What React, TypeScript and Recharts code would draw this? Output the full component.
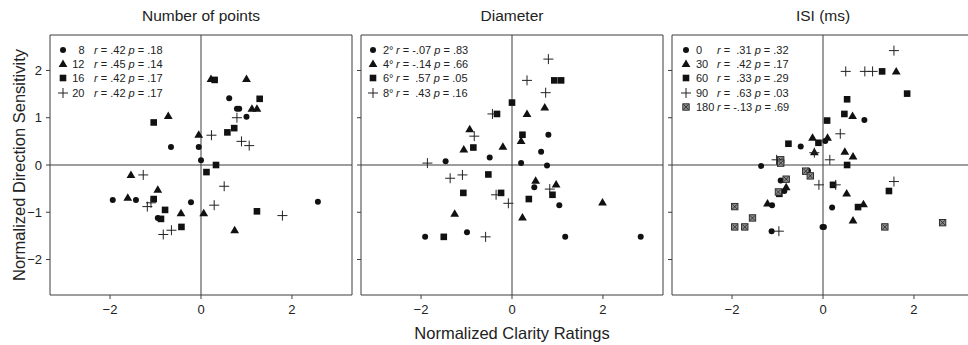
import React from 'react';
import { ScatterChart, Scatter, XAxis, YAxis, ReferenceLine } from 'recharts';

const FONT = "'Liberation Sans', Arial, Helvetica, sans-serif";
const INK = '#111';
const LINE = '#3c3c3c';

const xTicks = [-2, 0, 2];
const yTicks = [-2, -1, 0, 1, 2];
const X_DOMAIN: [number, number] = [-3.32, 3.32];
const Y_DOMAIN: [number, number] = [-2.75, 2.75];

const panelTitles = ['Number of points', 'Diameter', 'ISI (ms)'];
const xAxisTitle = 'Normalized Clarity Ratings';
const yAxisTitle = 'Normalized Direction Sensitivity';

// ---------- Panel 1: Number of points ----------
const np8: [number, number][] = [[2.57, -0.78], [-1.94, -0.74], [-1.43, -0.74], [-0.22, -0.79], [-0.66, 0.38], [-0.05, 0.38], [0.0, 0.1], [0.62, 1.41], [0.79, 1.19], [0.84, 1.19], [1.0, 1.02], [-0.95, -1.12]];
const np12: [number, number][] = [[-1.54, -0.21], [-1.61, -0.69], [-0.95, -0.52], [-0.72, 1.04], [-0.44, -1.02], [-0.05, 0.64], [0.06, -1.02], [0.22, 1.82], [0.74, -1.38], [1.0, 1.82], [1.12, 1.19], [1.23, 1.19]];
const np16: [number, number][] = [[-1.04, 0.9], [-1.04, -0.72], [-0.79, -0.95], [-0.88, -1.14], [-0.43, -1.31], [0.12, -0.15], [0.33, 0.0], [0.3, 1.8], [0.58, 0.69], [0.73, 0.78], [1.29, 1.4], [1.23, -0.98]];
const np20: [number, number][] = [[-1.27, -0.21], [-1.18, -0.88], [-1.1, -0.8], [-0.83, -1.47], [-0.65, -1.38], [0.23, 0.63], [0.29, -0.85], [0.51, -0.45], [0.79, 1.0], [0.89, 0.5], [1.06, 0.41], [1.79, -1.07]];

// ---------- Panel 2: Diameter ----------
const d2: [number, number][] = [[-1.91, -1.52], [-1.46, 0.08], [-0.99, -1.42], [-0.49, 0.16], [0.2, 0.04], [0.49, -0.47], [0.64, 0.28], [0.77, -0.01], [0.8, 0.64], [1.04, -0.85], [1.17, -1.52], [2.83, -1.52]];
const d4: [number, number][] = [[-1.26, -1.03], [-1.06, 0.33], [-0.93, 0.76], [-0.2, 0.39], [0.2, 0.51], [0.23, -1.11], [0.33, 1.08], [0.52, -0.33], [0.72, 1.22], [0.97, -0.41], [1.99, -0.79]];
const d6: [number, number][] = [[-1.5, -1.52], [-1.07, -0.59], [-0.85, 0.37], [-0.52, -0.2], [-0.33, 1.08], [-0.24, -0.59], [0.0, 1.32], [0.23, 0.64], [0.37, -0.72], [0.89, -0.63], [0.93, 1.79], [1.08, 1.79]];
const d8: [number, number][] = [[-1.86, 0.04], [-1.36, -0.28], [-1.09, -0.21], [-0.83, 0.61], [-0.43, 1.08], [-0.35, -0.63], [-0.08, -0.81], [-0.58, -1.52], [0.33, 1.79], [0.74, 1.53], [0.8, 2.24], [0.83, -0.51]];

// ---------- Panel 3: ISI (ms) ----------
const isi0: [number, number][] = [[-1.36, -0.02], [-1.13, -1.4], [-1.12, -0.85], [-0.93, -0.33], [-0.85, -0.55], [-0.49, 0.39], [-0.33, -0.12], [-0.01, -1.31], [0.02, -1.31], [0.05, 0.51], [0.2, -0.9], [0.91, 0.95]];
const isi30: [number, number][] = [[-1.22, -0.81], [-0.81, -0.47], [-0.23, 0.58], [-0.19, 0.27], [0.1, 0.58], [0.48, 0.28], [0.52, -0.6], [0.65, 1.04], [0.66, 0.18], [0.66, -1.17], [0.89, -0.83], [1.61, 1.98]];
const isi60: [number, number][] = [[-0.96, -0.61], [-0.76, 0.45], [-0.1, 0.47], [0.09, 0.94], [0.22, -0.42], [0.47, 1.08], [0.53, 1.39], [0.53, 0.0], [0.77, -0.89], [1.3, 1.98], [1.45, -0.55], [1.85, 1.51]];
const isi90: [number, number][] = [[-1.02, 0.11], [-0.97, -1.4], [-0.19, 0.26], [-0.09, -0.42], [0.15, 0.11], [0.28, -0.42], [0.38, 0.66], [0.5, 1.98], [0.92, 1.98], [1.09, 1.98], [1.56, 2.42], [1.56, -0.35]];
const isi180: [number, number][] = [[-1.94, -0.88], [-1.94, -1.31], [-1.72, -1.31], [-1.55, -1.12], [-0.98, -0.57], [-0.93, 0.11], [-0.93, 0.04], [-0.81, -0.3], [-0.38, -0.13], [-0.28, -0.23], [1.36, -1.31], [2.63, -1.22]];

// ---------- Legend texts ----------
const np_labels = ['8', '12', '16', '20'];
const np_r = ['.42', '.45', '.42', '.42'];
const np_p = ['.18', '.14', '.17', '.17'];
const d_labels = ['2°', '4°', '6°', '8°'];
const d_r = ['-.07', '-.14', ' .57', ' .43'];
const d_p = ['.83', '.66', '.05', '.16'];
const isi_labels = ['0', '30', '60', '90', '180'];
const isi_r = [' .31', ' .42', ' .33', ' .63', '-.13'];
const isi_p = ['.32', '.17', '.29', '.03', '.69'];

type Kind = 'circle' | 'triangle' | 'square' | 'plus' | 'squarex';

function Marker({ kind, cx, cy }: { kind: Kind; cx: number; cy: number }) {
  if (cx == null || cy == null) return null;
  switch (kind) {
    case 'circle':
      return <circle cx={cx} cy={cy} r={3} fill={INK} />;
    case 'triangle':
      return <polygon points={`${cx},${cy - 4.4} ${cx - 4.4},${cy + 3.1} ${cx + 4.4},${cy + 3.1}`} fill={INK} />;
    case 'square':
      return <rect x={cx - 3.3} y={cy - 3.3} width={6.6} height={6.6} fill={INK} />;
    case 'plus':
      return (
        <path d={`M${cx - 5},${cy}H${cx + 5}M${cx},${cy - 5}V${cy + 5}`} stroke="#222" strokeWidth={1} fill="none" />
      );
    case 'squarex':
      return (
        <g>
          <rect x={cx - 3.2} y={cy - 3.2} width={6.4} height={6.4} fill="#8c8c8c" stroke="#222" strokeWidth={0.9} />
          <path d={`M${cx - 2.4},${cy - 2.4}L${cx + 2.4},${cy + 2.4}M${cx + 2.4},${cy - 2.4}L${cx - 2.4},${cy + 2.4}`} stroke="#222" strokeWidth={0.8} />
        </g>
      );
  }
  return null;
}

const toPts = (arr: [number, number][]) => arr.map(([x, y]) => ({ x, y }));
const fmt = (v: number) => (v < 0 ? `\u2212${Math.abs(v)}` : `${v}`);

type Series = { data: [number, number][]; kind: Kind };

function Panel({ left, width, yAxisWidth, showYLabels, series }: { left: number; width: number; yAxisWidth: number; showYLabels: boolean; series: Series[] }) {
  return (
    <div style={{ position: 'absolute', left, top: 0 }}>
      <ScatterChart width={width} height={345} margin={{ top: 35, right: 8, bottom: 20, left: 0 }}>
        <XAxis
          type="number"
          dataKey="x"
          domain={X_DOMAIN}
          ticks={xTicks}
          allowDataOverflow
          tickFormatter={fmt}
          tickSize={4}
          tickMargin={6}
          height={30}
          axisLine={{ stroke: LINE }}
          tickLine={{ stroke: LINE }}
          tick={{ fill: '#222', fontSize: 13, fontFamily: FONT }}
        />
        <YAxis
          type="number"
          dataKey="y"
          domain={Y_DOMAIN}
          ticks={yTicks}
          allowDataOverflow
          tickFormatter={showYLabels ? fmt : () => ''}
          tickSize={4}
          tickMargin={4}
          width={yAxisWidth}
          axisLine={{ stroke: LINE }}
          tickLine={{ stroke: LINE }}
          tick={{ fill: '#222', fontSize: 13, fontFamily: FONT }}
        />
        <ReferenceLine x={X_DOMAIN[1]} stroke={LINE} />
        <ReferenceLine y={Y_DOMAIN[1]} stroke={LINE} />
        <ReferenceLine x={0} stroke={LINE} />
        <ReferenceLine y={0} stroke={LINE} />
        {series.map((s, i) => (
          <Scatter
            key={i}
            data={toPts(s.data)}
            isAnimationActive={false}
            shape={(p: any) => <Marker kind={s.kind} cx={p.cx} cy={p.cy} />}
          />
        ))}
      </ScatterChart>
    </div>
  );
}

function LegendIcon({ kind, x, y }: { kind: Kind; x: number; y: number }) {
  return (
    <svg style={{ position: 'absolute', left: x - 7, top: y - 7 }} width={14} height={14}>
      <Marker kind={kind} cx={7} cy={7} />
    </svg>
  );
}

function Legend({ kinds, labels, rs, ps, symX, labelX, labelAlign, rX, top0 }: {
  kinds: Kind[]; labels: string[]; rs: string[]; ps: string[]; symX: number; labelX: number; labelAlign: 'left' | 'right'; rX: number; top0: number;
}) {
  const step = 14.4;
  return (
    <>
      {labels.map((lab, i) => {
        const cy = top0 + i * step;
        const textStyle: React.CSSProperties = {
          position: 'absolute',
          top: cy - 7,
          height: 14,
          lineHeight: '14px',
          fontSize: 11,
          fontFamily: FONT,
          color: '#222',
          whiteSpace: 'pre',
        };
        return (
          <React.Fragment key={i}>
            <LegendIcon kind={kinds[i]} x={symX} y={cy} />
            {labelAlign === 'right' ? (
              <div style={{ ...textStyle, right: 968 - labelX, textAlign: 'right' }}>{lab}</div>
            ) : (
              <div style={{ ...textStyle, left: labelX }}>{lab}</div>
            )}
            <div style={{ ...textStyle, left: rX }}>
              <i>r</i>{` = ${rs[i]} `}<i>p</i>{` = ${ps[i]}`}
            </div>
          </React.Fragment>
        );
      })}
    </>
  );
}

const titleStyle = (cx: number): React.CSSProperties => ({
  position: 'absolute',
  left: cx - 100,
  width: 200,
  top: 7,
  textAlign: 'center',
  fontSize: 15.5,
  fontFamily: FONT,
  color: '#222',
});

export default function App() {
  return (
    <div style={{ position: 'fixed', left: 0, top: 0, width: 968, height: 345, overflow: 'hidden', background: '#fff' }}>
      <Panel
        left={0}
        width={360}
        yAxisWidth={50}
        showYLabels
        series={[
          { data: np8, kind: 'circle' },
          { data: np12, kind: 'triangle' },
          { data: np16, kind: 'square' },
          { data: np20, kind: 'plus' },
        ]}
      />
      <Panel
        left={351}
        width={320}
        yAxisWidth={10}
        showYLabels={false}
        series={[
          { data: d2, kind: 'circle' },
          { data: d4, kind: 'triangle' },
          { data: d6, kind: 'square' },
          { data: d8, kind: 'plus' },
        ]}
      />
      <Panel
        left={662}
        width={320}
        yAxisWidth={10}
        showYLabels={false}
        series={[
          { data: isi0, kind: 'circle' },
          { data: isi30, kind: 'triangle' },
          { data: isi60, kind: 'square' },
          { data: isi90, kind: 'plus' },
          { data: isi180, kind: 'squarex' },
        ]}
      />

      <Legend kinds={['circle', 'triangle', 'square', 'plus']} labels={np_labels} rs={np_r} ps={np_p} symX={62.5} labelX={84.5} labelAlign="right" rX={94} top0={49.5} />
      <Legend kinds={['circle', 'triangle', 'square', 'plus']} labels={d_labels} rs={d_r} ps={d_p} symX={373} labelX={383} labelAlign="left" rX={396} top0={49.5} />
      <Legend kinds={['circle', 'triangle', 'square', 'plus', 'squarex']} labels={isi_labels} rs={isi_r} ps={isi_p} symX={686} labelX={696} labelAlign="left" rX={717} top0={49.5} />

      <div style={titleStyle(201)}>{panelTitles[0]}</div>
      <div style={titleStyle(512)}>{panelTitles[1]}</div>
      <div style={titleStyle(823)}>{panelTitles[2]}</div>

      <div style={{ position: 'absolute', left: 312, width: 400, top: 324, textAlign: 'center', fontSize: 16.5, fontFamily: FONT, color: '#222' }}>{xAxisTitle}</div>
      <div style={{ position: 'absolute', left: 19 - 150, top: 165 - 10, width: 300, height: 20, lineHeight: '20px', textAlign: 'center', fontSize: 16.5, fontFamily: FONT, color: '#222', transform: 'rotate(-90deg)' }}>{yAxisTitle}</div>
    </div>
  );
}
